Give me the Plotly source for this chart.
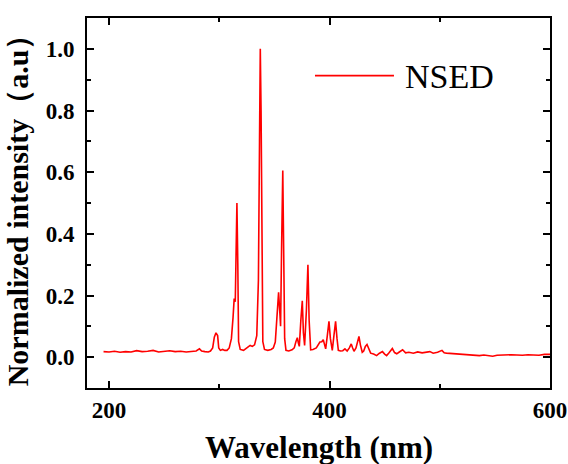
import plotly.graph_objects as go

# emission spectrum
wavelength = [
    195, 200, 205, 210, 215, 220, 225, 230, 235, 240, 245, 250, 255, 260, 265, 270, 275, 279,
    282, 284, 287, 290, 292, 294, 295.5, 297, 298.5, 299.5, 301, 303, 305, 307, 309, 311,
    312.5, 313.5, 314.5, 315.5, 316, 316.8, 317.5, 319, 322, 325, 328, 330, 332, 334,
    335.5, 336.5, 337.2, 337.9, 338.6, 339.5, 341, 344, 347, 349, 350.8, 352, 353.8, 355,
    355.6, 356.5, 357.6, 358.4, 359.3, 360.5, 363, 366, 368, 369.5, 370.8, 371.8, 372.6,
    374, 375.3, 376.3, 377.4, 379, 380.4, 381.5, 382.9, 385, 388, 391.3, 393, 394.3, 395.5,
    396.5, 398, 399.5, 400.8, 402.5, 404, 405.5, 406.8, 408, 410, 412, 414, 416, 418, 419.7,
    421, 422.2, 424, 425.5, 426.7, 428, 429.7, 431, 432.5, 434, 435.5, 437.3, 440, 442.7,
    445, 448, 450, 451.8, 454, 457, 459, 461, 463, 466.3, 469, 472, 476, 480, 484, 488, 491,
    494, 498, 502, 504, 506, 510, 515, 520, 525, 530, 536, 540, 545, 548, 552, 556, 560,
    565, 570, 575, 580, 585, 590, 595, 600,
]
intensity = [
    0.018, 0.017, 0.019, 0.016, 0.018, 0.017, 0.021, 0.018, 0.019, 0.022, 0.017, 0.019, 0.021, 0.018, 0.019, 0.017, 0.019, 0.020,
    0.027, 0.020, 0.018, 0.017, 0.020, 0.030, 0.065, 0.079, 0.070, 0.030, 0.022, 0.025, 0.022, 0.022, 0.030, 0.060,
    0.130, 0.190, 0.180, 0.450, 0.500, 0.300, 0.050, 0.025, 0.022, 0.030, 0.038, 0.035, 0.040, 0.070,
    0.250, 0.700, 1.000, 0.800, 0.250, 0.050, 0.025, 0.022, 0.025, 0.030, 0.049, 0.120, 0.210, 0.140,
    0.100, 0.350, 0.605, 0.350, 0.060, 0.022, 0.020, 0.024, 0.030, 0.050, 0.063, 0.045, 0.035,
    0.120, 0.183, 0.080, 0.038, 0.150, 0.300, 0.120, 0.024, 0.025, 0.030, 0.049, 0.050, 0.057, 0.040,
    0.027, 0.070, 0.116, 0.060, 0.022, 0.070, 0.116, 0.060, 0.022, 0.020, 0.021, 0.027, 0.020, 0.030, 0.043,
    0.030, 0.019, 0.030, 0.055, 0.067, 0.040, 0.016, 0.020, 0.035, 0.041, 0.025, 0.013, 0.010, 0.005,
    0.012, 0.018, 0.010, 0.005, 0.014, 0.028, 0.015, 0.011, 0.016, 0.024, 0.014, 0.016, 0.013, 0.017, 0.014, 0.016, 0.018,
    0.013, 0.016, 0.022, 0.014, 0.013, 0.012, 0.010, 0.011, 0.009, 0.008, 0.005, 0.007, 0.006, 0.003, 0.006, 0.007, 0.006,
    0.008, 0.007, 0.006, 0.008, 0.007, 0.006, 0.009, 0.009,
]
series_name = 'NSED'
x_title = 'Wavelength (nm)'
y_title = 'Normalized intensity（a.u）'

serif = 'Liberation Serif, Times New Roman, serif'

fig = go.Figure(go.Scatter(
    x=wavelength, y=intensity, mode='lines',
    line=dict(color='#ff0000', width=1.6),
    name=series_name, showlegend=False,
))

axis_common = dict(
    showline=True, linecolor='black', linewidth=2, mirror='allticks',
    ticks='inside', ticklen=7, tickwidth=1.8, tickcolor='black',
    showgrid=False, zeroline=False, automargin=False,
    tickfont=dict(family=serif, size=23, color='black', weight='bold'),
    minor=dict(ticks='inside', ticklen=4, tickwidth=1.8, tickcolor='black', showgrid=False),
)

fig.update_xaxes(range=[180, 600], tick0=200, dtick=200, **axis_common)
fig.update_xaxes(minor_dtick=100)
fig.update_yaxes(
    range=[-0.1, 1.1], tick0=0, dtick=0.2, tickformat='.1f',
    ticklabelstandoff=6,
    title=dict(text=y_title, standoff=8,
               font=dict(family=serif, size=30, color='black', weight='bold')),
    **axis_common,
)
fig.update_yaxes(minor_dtick=0.1)

# x title placed by hand, low near the page edge as in the original
fig.add_annotation(text=x_title, xref='paper', yref='paper', x=0.5, y=-0.108,
                   xanchor='center', yanchor='top', showarrow=False,
                   font=dict(family=serif, size=31, color='black', weight='bold'))

# legend drawn by hand so the sample line is as long as in the original
fig.add_shape(type='line', xref='paper', yref='paper', x0=0.4924, x1=0.663, y0=0.844, y1=0.844,
              line=dict(color='#ff0000', width=1.8))
fig.add_annotation(text=series_name, xref='paper', yref='paper', x=0.682, y=0.842,
                   xanchor='left', yanchor='middle', showarrow=False,
                   font=dict(family=serif, size=34, color='black'))

fig.update_layout(
    width=568, height=464,
    margin=dict(l=87, r=18, t=18, b=76),
    paper_bgcolor='white', plot_bgcolor='white',
)

# drop the default body margin so the figure fills the window exactly
fig.write_html('out.html', config={'displayModeBar': False},
               post_script="document.body.style.margin='0';document.body.style.overflow='hidden';")
